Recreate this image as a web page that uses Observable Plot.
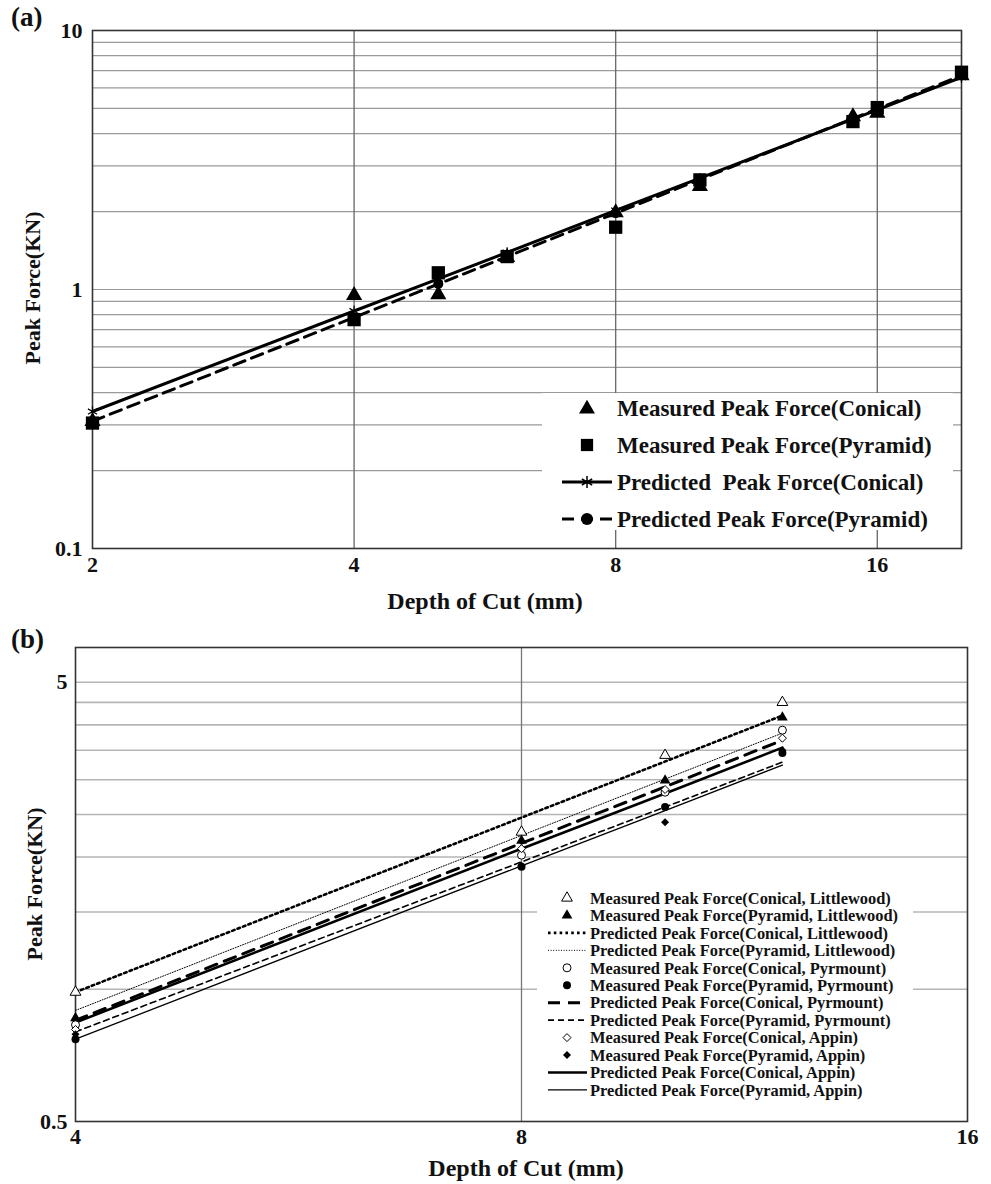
<!DOCTYPE html>
<html><head><meta charset="utf-8">
<script src="https://cdn.jsdelivr.net/npm/d3@7"></script>
<script src="https://cdn.jsdelivr.net/npm/@observablehq/plot@0.6"></script>
<style>
body{margin:0;background:#fff;width:991px;height:1184px;position:relative;overflow:hidden;font-family:"Liberation Serif",serif;font-weight:bold;color:#111;}
.abs{position:absolute;}
.plabel{font-size:27px;}
.title{font-size:24px;white-space:nowrap;transform:translate(-50%,-50%);}
.ytitle{font-size:22px;white-space:nowrap;transform:translate(-50%,-50%) rotate(-90deg);}
</style></head><body>
<div id="pa" class="abs" style="left:0;top:0"></div>
<div id="pb" class="abs" style="left:0;top:615px"></div>
<div class="abs plabel" style="left:11px;top:2px">(a)</div>
<div class="abs plabel" style="left:11px;top:624px">(b)</div>
<div class="abs title" style="left:485px;top:601px">Depth of Cut (mm)</div>
<div class="abs ytitle" style="left:33px;top:288px">Peak Force(KN)</div>
<div class="abs title" style="left:526px;top:1168px">Depth of Cut (mm)</div>
<div class="abs ytitle" style="left:35px;top:884px">Peak Force(KN)</div>
<script>
// ---------- Panel (a) data ----------
const depthA = [2, 4, 5, 6, 8, 10, 15, 16, 20];
const measConicalA = [0.31, 0.95, 0.955, 1.33, 1.98, 2.5, 4.65, 4.8, 6.7];
const measPyramidA = [0.305, 0.765, 1.16, 1.34, 1.74, 2.65, 4.45, 5.04, 6.9];
const predConicalA = [0.338, 0.826, 1.10, 1.39, 2.02, 2.69, 4.55, 4.94, 6.59];
const predPyramidA = [0.31, 0.78, 1.05, 1.34, 1.97, 2.66, 4.57, 4.98, 6.7];
const xTicksA = [2, 4, 8, 16];
const yTicksA = [0.1, 1, 10];
const yGridA = [0.2,0.3,0.4,0.5,0.6,0.7,0.8,0.9,1,2,3,4,5,6,7,8,9];
const legendA = ["Measured Peak Force(Conical)", "Measured Peak Force(Pyramid)", "Predicted  Peak Force(Conical)", "Predicted Peak Force(Pyramid)"];

// ---------- Panel (b) data ----------
const depthB = [4, 8, 10, 12];
const measConLit = [0.985, 2.28, 3.41, 4.5];
const measPyrLit = [0.86, 2.18, 2.99, 4.16];
const predConLit = [0.985, 2.46, 3.30, 4.2];
const predPyrLit = [0.895, 2.24, 3.01, 3.83];
const measConPyr = [0.83, 2.02, 2.81, 3.89];
const measPyrPyr = [0.77, 1.9, 2.6, 3.45];
const predConPyr = [0.85, 2.15, 2.89, 3.69];
const predPyrPyr = [0.80, 1.95, 2.60, 3.29];
const measConApp = [0.81, 2.09, 2.85, 3.73];
const measPyrApp = [0.79, 1.91, 2.4, 3.5];
const predConApp = [0.84, 2.09, 2.79, 3.55];
const predPyrApp = [0.77, 1.91, 2.55, 3.24];
const xTicksB = [4, 8, 16];
const yTicksB = [0.5, 5];
const yGridB = [1, 1.5, 2, 2.5, 3, 3.5, 4, 4.5, 5];
const legendB = [
  "Measured Peak Force(Conical, Littlewood)",
  "Measured Peak Force(Pyramid, Littlewood)",
  "Predicted Peak Force(Conical, Littlewood)",
  "Predicted Peak Force(Pyramid, Littlewood)",
  "Measured Peak Force(Conical, Pyrmount)",
  "Measured Peak Force(Pyramid, Pyrmount)",
  "Predicted Peak Force(Conical, Pyrmount)",
  "Predicted Peak Force(Pyramid, Pyrmount)",
  "Measured Peak Force(Conical, Appin)",
  "Measured Peak Force(Pyramid, Appin)",
  "Predicted Peak Force(Conical, Appin)",
  "Predicted Peak Force(Pyramid, Appin)"
];

const tableA = depthA.map((d, i) => ({depth: d, mc: measConicalA[i], mp: measPyramidA[i], pc: predConicalA[i], pp: predPyramidA[i]}));
const seriesB = [measConLit, measPyrLit, predConLit, predPyrLit, measConPyr, measPyrPyr, predConPyr, predPyrPyr, measConApp, measPyrApp, predConApp, predPyrApp];
const tablesB = seriesB.map(s => depthB.map((d, i) => ({depth: d, v: s[i]})));

const font = {fontFamily: "Liberation Serif", fontWeight: "bold", fontSize: "22px", color: "#111", background: "white", overflow: "visible"};

// ---------- Panel (a) ----------
const plotA = Plot.plot({
  width: 991, height: 615,
  marginLeft: 92, marginRight: 30, marginTop: 30, marginBottom: 67,
  x: {type: "log", domain: [2, 20]},
  y: {type: "log", domain: [0.1, 10]},
  style: font,
  marks: [
    Plot.gridY(yGridA, {stroke: "#9a9a9a", strokeOpacity: 1, strokeWidth: 1.2}),
    Plot.gridX([4, 8, 16], {stroke: "#666", strokeOpacity: 1, strokeWidth: 1.3}),
    Plot.frame({stroke: "#333", strokeWidth: 1.6}),
    Plot.axisX(xTicksA, {tickSize: 0, tickPadding: 8, label: null, tickFormat: d => String(d), fontSize: 22, fontWeight: "bold"}),
    Plot.axisY(yTicksA, {tickSize: 0, tickPadding: 10, label: null, tickFormat: d => String(d), fontSize: 22, fontWeight: "bold"}),
    Plot.line(tableA, {x: "depth", y: "pc", stroke: "#000", strokeWidth: 3}),
    Plot.line(tableA, {x: "depth", y: "pp", stroke: "#000", strokeWidth: 3, strokeDasharray: "12,7"}),
    Plot.dot(tableA, {x: "depth", y: "pc", symbol: "asterisk", r: 5, stroke: "#000", strokeWidth: 1.2}),
    Plot.dot(tableA, {x: "depth", y: "pp", symbol: "circle", r: 5, fill: "#000", stroke: "none"}),
    Plot.dot(tableA, {x: "depth", y: "mc", symbol: "triangle", r: 6, fill: "#000", stroke: "none"}),
    Plot.dot(tableA, {x: "depth", y: "mp", symbol: "square", r: 7.5, fill: "#000", stroke: "none"})
  ]
});
document.getElementById("pa").append(plotA);

// legend (a)
{
  const svg = d3.select(plotA);
  const g = svg.append("g").attr("text-anchor", "start");
  g.append("rect").attr("x", 542).attr("y", 393).attr("width", 411).attr("height", 137).attr("fill", "white");
  const rows = [408, 445, 482, 519];
  const sym = (type, size) => d3.symbol(type, size)();
  legendA.forEach((lab, i) => {
    const y = rows[i];
    if (i === 0) g.append("path").attr("d", sym(d3.symbolTriangle, 110)).attr("transform", `translate(587,${y + 1})`).attr("fill", "#000");
    if (i === 1) g.append("path").attr("d", sym(d3.symbolSquare, 150)).attr("transform", `translate(587,${y})`).attr("fill", "#000");
    if (i === 2) {
      g.append("line").attr("x1", 562).attr("x2", 612).attr("y1", y).attr("y2", y).attr("stroke", "#000").attr("stroke-width", 3);
      g.append("path").attr("d", sym(d3.symbolAsterisk, 100)).attr("transform", `translate(587,${y})`).attr("stroke", "#000").attr("stroke-width", 1.5).attr("fill", "none");
    }
    if (i === 3) {
      g.append("line").attr("x1", 562).attr("x2", 612).attr("y1", y).attr("y2", y).attr("stroke", "#000").attr("stroke-width", 3).attr("stroke-dasharray", "12,7");
      g.append("circle").attr("cx", 587).attr("cy", y).attr("r", 6).attr("fill", "#000");
    }
    g.append("text").attr("x", 617).attr("y", y).attr("dy", "0.35em").attr("font-size", 23).attr("font-weight", "bold")
      .attr("text-anchor", "start").attr("font-family", "Liberation Serif").attr("fill", "#111").style("white-space", "pre").text(lab);
  });
}

// ---------- Panel (b) ----------
const lineStyles = {
  2: {strokeWidth: 2.6, strokeDasharray: "2.6,3.2"},
  3: {strokeWidth: 1, strokeDasharray: "1,1.6"},
  6: {strokeWidth: 3, strokeDasharray: "12,8"},
  7: {strokeWidth: 1.6, strokeDasharray: "6,4"},
  10: {strokeWidth: 2.6},
  11: {strokeWidth: 1.3}
};
const markStyles = {
  0: {symbol: "triangle", r: 4, fill: "white", stroke: "#000", strokeWidth: 1},
  1: {symbol: "triangle", r: 4, fill: "#000", stroke: "none"},
  4: {symbol: "circle", r: 4, fill: "white", stroke: "#000", strokeWidth: 1},
  5: {symbol: "circle", r: 4, fill: "#000", stroke: "none"},
  8: {symbol: "diamond2", r: 3.6, fill: "white", stroke: "#000", strokeWidth: 1},
  9: {symbol: "diamond2", r: 3.6, fill: "#000", stroke: "none"}
};
const marksB = [
  Plot.gridY(yGridB, {stroke: "#b5b5b5", strokeOpacity: 1, strokeWidth: 1.6}),
  Plot.gridX([8], {stroke: "#777", strokeOpacity: 1, strokeWidth: 1.3}),
  Plot.frame({stroke: "#333", strokeWidth: 1.6}),
  Plot.axisX(xTicksB, {tickSize: 0, tickPadding: 7, label: null, tickFormat: d => String(d), fontSize: 22, fontWeight: "bold"}),
  Plot.axisY(yTicksB, {tickSize: 0, tickPadding: 8, label: null, tickFormat: d => String(d), fontSize: 22, fontWeight: "bold"})
];
Object.entries(lineStyles).forEach(([k, st]) => marksB.push(Plot.line(tablesB[+k], {x: "depth", y: "v", stroke: "#000", ...st})));
Object.entries(markStyles).forEach(([k, st]) => marksB.push(Plot.dot(tablesB[+k], {x: "depth", y: "v", ...st})));

const plotB = Plot.plot({
  width: 991, height: 569,
  marginLeft: 75, marginRight: 24, marginTop: 32, marginBottom: 63,
  x: {type: "log", domain: [4, 16]},
  y: {type: "log", domain: [0.5, 6]},
  style: font,
  marks: marksB
});
document.getElementById("pb").append(plotB);

// legend (b)
{
  const svg = d3.select(plotB);
  const g = svg.append("g").attr("text-anchor", "start");
  g.append("rect").attr("x", 537).attr("y", 885 - 615).attr("width", 376).attr("height", 220).attr("fill", "white");
  const symMap = {triangle: d3.symbolTriangle, circle: d3.symbolCircle, diamond2: d3.symbolDiamond2};
  legendB.forEach((lab, i) => {
    const y = 898 - 615 + i * 17.45;
    if (markStyles[i]) {
      const st = markStyles[i];
      const size = Math.PI * st.r * st.r;
      g.append("path").attr("d", d3.symbol(symMap[st.symbol], size)()).attr("transform", `translate(567,${y})`)
        .attr("fill", st.fill).attr("stroke", st.stroke).attr("stroke-width", st.strokeWidth || 0);
    }
    if (lineStyles[i]) {
      const st = lineStyles[i];
      g.append("line").attr("x1", 548).attr("x2", 587).attr("y1", y).attr("y2", y).attr("stroke", "#000")
        .attr("stroke-width", st.strokeWidth).attr("stroke-dasharray", st.strokeDasharray || null);
    }
    g.append("text").attr("x", 590).attr("y", y).attr("dy", "0.35em").attr("font-size", 16.4).attr("font-weight", "bold")
      .attr("text-anchor", "start").attr("font-family", "Liberation Serif").attr("fill", "#111").text(lab);
  });
}
</script>
</body></html>
